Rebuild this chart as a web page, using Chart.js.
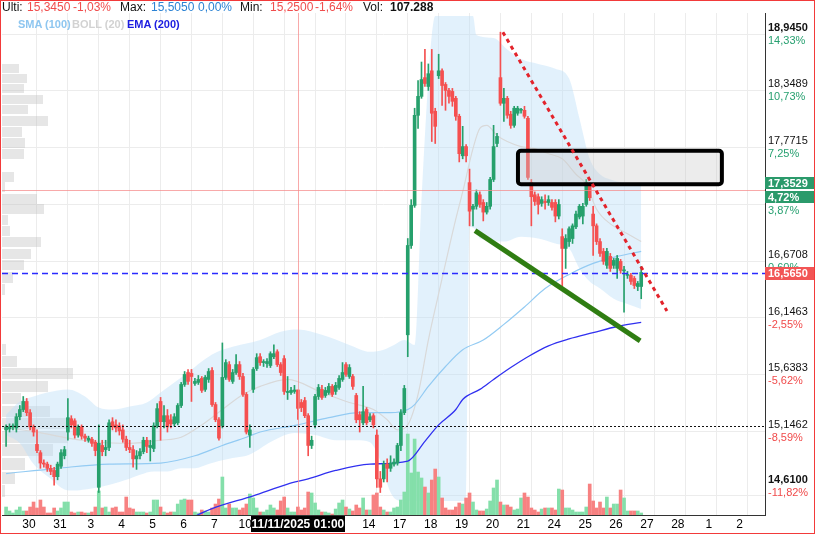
<!DOCTYPE html>
<html>
<head>
<meta charset="utf-8">
<title>Chart</title>
<script src="https://cdn.jsdelivr.net/npm/chart.js@4.4.1/dist/chart.umd.min.js"></script>
<style>
  html, body { margin: 0; padding: 0; background: #fff; }
  #wrap { position: relative; width: 813px; height: 532px; border: 1px solid #f23a3a; overflow: hidden;
          font-family: Arial, "Liberation Sans", sans-serif; }
  #wrap canvas { position: absolute; left: 0; top: 0; }
  #head { position: absolute; left: 0; top: 0; width: 763px; height: 12px; background: #fff;
          font-size: 12px; line-height: 12px; white-space: nowrap; }
  #head span, #legend span { position: absolute; top: 0; }
  .k { color: #111; }
  .r { color: #f04d4d; }
  .b { color: #2c83d4; }
  #legend { position: absolute; left: 0; top: 17px; font-size: 11px; font-weight: bold; line-height: 13px; white-space: nowrap; }
</style>
</head>
<body>
<div id="wrap">
  <canvas id="chart" width="813" height="532"></canvas>
  <div id="head">
    <span class="k" style="left:1px">Ulti:</span>
    <span class="r" style="left:26px">15,3450</span>
    <span class="r" style="left:72px">-1,03%</span>
    <span class="k" style="left:119px">Max:</span>
    <span class="b" style="left:150px">15,5050</span>
    <span class="b" style="left:197px">0,00%</span>
    <span class="k" style="left:239px">Min:</span>
    <span class="r" style="left:269px">15,2500</span>
    <span class="r" style="left:314px">-1,64%</span>
    <span class="k" style="left:362px">Vol:</span>
    <span class="k" style="left:389px;font-weight:bold">107.288</span>
  </div>
  <div id="legend">
    <span style="left:17px;color:#8ec6f0">SMA (100)</span>
    <span style="left:71px;color:#d2d2d2">BOLL (20)</span>
    <span style="left:126px;color:#1c1ce0">EMA (200)</span>
  </div>
</div>
<script>
// hourly candles, 9 per session, index 0 = first bar of 29 Oct
const open = [
  15.160,15.168,15.186,15.177,15.273,15.335,15.405,15.308,15.186,
  15.037,14.967,14.880,14.871,14.836,14.818,14.766,14.853,14.941,
  15.142,15.256,15.238,15.116,15.186,15.107,15.072,15.081,15.055,
  14.678,15.028,14.993,15.011,15.230,15.203,15.195,15.160,15.081,
  15.011,14.993,14.915,14.941,14.976,15.072,15.011,15.002,15.195,
  15.405,15.230,15.282,15.247,15.212,15.221,15.370,15.553,15.658,
  15.650,15.562,15.571,15.606,15.510,15.597,15.676,15.378,15.247,
  15.195,15.615,15.728,15.580,15.658,15.728,15.623,15.466,15.116,
  15.510,15.693,15.798,15.746,15.737,15.720,15.798,15.842,15.728,
  15.781,15.483,15.483,15.492,15.505,15.396,15.413,15.282,15.028,
  15.203,15.448,15.510,15.457,15.483,15.536,15.492,15.527,15.597,
  15.728,15.623,15.623,15.457,15.291,15.221,15.335,15.247,15.282,
  15.116,14.748,14.748,14.871,14.836,14.871,14.880,15.028,15.308,
  15.994,16.819,17.203,18.098,18.292,18.486,18.394,18.557,18.139,
  18.506,18.557,18.415,18.353,18.343,18.272,18.088,17.690,17.782,
  17.425,17.166,17.194,17.306,17.231,17.138,17.194,17.456,17.813,
  18.486,18.221,18.272,18.109,17.996,18.119,18.149,18.149,18.068,
  17.425,17.306,17.287,17.222,17.241,17.231,17.231,17.231,17.100,
  16.903,16.791,16.856,16.885,16.997,17.091,17.100,17.212,17.405,
  17.119,17.006,16.856,16.763,16.632,16.716,16.632,16.603,16.669,
  16.580,16.538,16.538,16.510,16.435,16.435
];
const high = [
  15.203,15.212,15.212,15.300,15.370,15.448,15.431,15.335,15.203,
  15.160,14.985,14.906,14.888,14.862,14.845,14.888,14.993,15.020,
  15.431,15.282,15.256,15.203,15.203,15.125,15.107,15.098,15.072,
  15.203,15.072,15.072,15.247,15.265,15.247,15.221,15.203,15.107,
  15.072,15.028,14.985,15.002,15.098,15.098,15.072,15.221,15.387,
  15.440,15.370,15.335,15.291,15.300,15.387,15.571,15.667,15.685,
  15.685,15.606,15.632,15.623,15.632,15.693,15.702,15.396,15.265,
  15.921,15.772,15.755,15.685,15.816,15.755,15.650,15.483,15.203,
  15.702,15.825,15.825,15.772,15.781,15.842,15.903,15.860,15.746,
  15.807,15.623,15.527,15.545,15.505,15.422,15.440,15.300,15.107,
  15.466,15.553,15.545,15.527,15.562,15.553,15.571,15.632,15.746,
  15.746,15.728,15.641,15.475,15.317,15.536,15.352,15.300,15.300,
  15.160,14.810,14.897,14.915,14.941,14.915,15.046,15.335,15.545,
  16.885,17.259,18.170,18.455,18.649,18.782,18.629,18.782,18.170,
  18.731,18.578,18.435,18.374,18.374,18.292,18.109,17.986,17.803,
  17.558,17.212,17.353,17.334,17.259,17.231,17.476,17.996,17.915,
  18.965,18.374,18.292,18.139,18.190,18.190,18.170,18.190,18.088,
  17.456,17.334,17.315,17.287,17.306,17.297,17.259,17.259,17.259,
  16.978,16.922,16.997,17.025,17.147,17.212,17.222,17.456,17.425,
  17.194,17.025,16.885,16.791,16.791,16.744,16.697,16.725,16.688,
  16.622,16.575,16.557,16.528,16.482,16.622
];
const low = [
  15.020,15.142,15.160,15.142,15.247,15.317,15.282,15.160,15.107,
  14.967,14.836,14.845,14.810,14.783,14.696,14.740,14.836,14.915,
  15.072,15.177,15.090,15.098,15.081,15.063,15.055,15.020,14.941,
  14.635,14.941,14.941,14.985,15.160,15.142,15.116,15.055,14.985,
  14.967,14.845,14.827,14.915,14.958,14.967,14.897,14.976,15.177,
  15.072,15.177,15.142,15.177,15.195,15.203,15.352,15.536,15.553,
  15.405,15.545,15.553,15.483,15.492,15.571,15.361,15.230,15.072,
  15.177,15.597,15.580,15.562,15.641,15.597,15.448,15.125,15.011,
  15.483,15.676,15.720,15.711,15.702,15.702,15.781,15.711,15.632,
  15.466,15.422,15.466,15.475,15.250,15.317,15.265,14.941,15.002,
  15.177,15.422,15.422,15.440,15.466,15.448,15.466,15.510,15.580,
  15.623,15.606,15.510,15.221,15.142,15.203,15.203,15.230,15.177,
  14.678,14.635,14.722,14.722,14.810,14.853,14.862,14.985,15.291,
  15.798,16.791,17.184,17.966,18.272,18.394,18.353,17.833,17.813,
  18.476,18.200,18.149,18.221,18.190,18.047,17.629,17.660,17.629,
  17.006,17.006,17.166,17.184,17.053,17.119,17.166,17.435,17.782,
  18.200,18.037,18.068,17.966,17.976,18.098,18.119,18.068,17.456,
  17.006,17.203,17.119,17.194,17.166,17.203,17.156,17.044,17.072,
  16.425,16.603,16.810,16.838,16.978,17.072,17.025,17.194,17.250,
  16.725,16.828,16.716,16.641,16.603,16.575,16.603,16.510,16.557,
  16.200,16.510,16.454,16.416,16.397,16.322
];
const close = [
  15.186,15.186,15.186,15.273,15.335,15.405,15.308,15.186,15.142,
  14.985,14.880,14.871,14.836,14.810,14.766,14.871,14.967,14.993,
  15.265,15.203,15.116,15.186,15.107,15.090,15.090,15.046,14.985,
  15.046,14.976,15.011,15.221,15.186,15.177,15.151,15.081,15.011,
  14.993,14.915,14.941,14.976,15.072,15.020,15.028,15.195,15.343,
  15.230,15.282,15.186,15.212,15.273,15.370,15.553,15.641,15.580,
  15.623,15.580,15.597,15.501,15.615,15.667,15.378,15.247,15.090,
  15.615,15.746,15.597,15.658,15.728,15.623,15.466,15.142,15.160,
  15.685,15.790,15.746,15.746,15.755,15.825,15.825,15.728,15.658,
  15.492,15.492,15.501,15.505,15.345,15.352,15.282,15.028,15.072,
  15.448,15.527,15.440,15.501,15.536,15.466,15.545,15.606,15.658,
  15.641,15.702,15.536,15.247,15.247,15.317,15.221,15.273,15.203,
  14.748,14.678,14.871,14.836,14.880,14.888,15.028,15.308,15.518,
  16.819,17.203,18.098,18.292,18.466,18.425,18.527,18.119,17.986,
  18.557,18.404,18.353,18.292,18.241,18.088,17.711,17.782,17.690,
  17.147,17.194,17.325,17.212,17.138,17.194,17.456,17.782,17.884,
  18.221,18.272,18.098,17.996,18.170,18.170,18.149,18.088,17.476,
  17.287,17.241,17.212,17.259,17.231,17.259,17.184,17.100,17.212,
  16.791,16.885,16.978,17.006,17.119,17.194,17.194,17.425,17.278,
  17.006,16.856,16.744,16.669,16.763,16.603,16.678,16.697,16.585,
  16.590,16.547,16.482,16.444,16.463,16.565
];
// volume, thousands of shares
const volume = [
  107,54,27,67,107,54,54,107,174,
  94,201,107,27,27,94,54,94,174,
  174,40,27,40,40,27,27,40,107,
  322,94,107,40,94,107,40,40,241,
  94,80,40,40,40,27,40,201,201,
  107,40,27,40,40,147,201,214,201,
  201,40,27,67,54,40,94,147,214,
  509,94,147,94,94,67,94,147,281,
  228,94,40,40,67,134,94,67,188,
  241,94,40,40,107,67,94,308,295,
  161,67,40,40,27,13,80,161,201,
  107,80,54,134,94,228,67,67,268,
  295,107,67,40,40,94,107,201,308,
  1085,563,1018,576,496,375,295,469,616,
  509,228,94,67,67,107,161,147,228,
  295,174,67,54,54,80,188,362,469,
  174,134,134,107,67,80,228,295,241,
  94,67,40,80,94,94,94,67,348,
  335,94,94,67,40,40,40,107,415,
  188,94,174,94,241,94,147,147,335,
  228,54,54,54,54,27
];

// session starts on the time axis and their labels
const dayStart = [9,18,27,36,45,54,63,72,81,90,99,108,117,126,135,144,153,162,171,180,189,198,207,216];
const dayNames = ['30','31','3','4','5','6','7','10','11','12','13','14','17','18','19','20','21','24','25','26','27','28','1','2'];

// price scale levels and their % labels
const yTicks = [18.945, 18.3489, 17.7715, 17.2114, 16.6708, 16.1463, 15.6383, 15.1462, 14.61];
const yPct = ['14,33%','10,73%','7,25%','3,87%','0,60%','-2,55%','-5,62%','-8,59%','-11,82%'];

// indicators (x = bar index)
const bbUpX = [0,4,8,12,18,23,27,31,36,41,45,49,53,57,61,66,74,80,85,92,100,106,110,113,116,119,121,123,124,125,136,137,142,146,150,155,160,164,167,170,173,176,180,185];
const bbUpY = [15.291,15.405,15.448,15.483,15.510,15.448,15.352,15.335,15.361,15.396,15.483,15.571,15.658,15.755,15.833,15.886,15.947,16.022,16.041,15.994,15.903,15.842,15.860,15.903,15.947,15.903,17.259,18.476,18.935,19.139,19.139,18.935,18.904,18.782,18.680,18.629,18.578,18.476,18.068,17.660,17.507,17.456,17.425,17.405];
const bbLoX = [0,4,8,13,17,20,23,27,31,35,39,43,47,51,55,59,62,66,70,72,78,84,90,96,102,106,109,112,115,134,135,137,138,145,150,155,160,164,167,170,173,177,181,185];
const bbLoY = [15.116,15.046,14.871,14.748,14.661,14.652,14.661,14.678,14.705,14.740,14.783,14.810,14.810,14.836,14.836,14.871,14.897,14.923,14.941,14.967,15.072,15.133,15.116,15.072,15.072,15.055,14.897,14.635,14.565,14.565,16.997,16.959,16.885,16.856,16.903,16.885,16.838,16.791,16.603,16.481,16.416,16.322,16.275,16.229];
const bbMidX = [0,9,18,27,36,45,51,57,63,69,74,82,92,100,107,111,114,117,120,123,126,128,131,133,136,138,140,143,146,150,154,158,162,166,169,172,176,181,185];
const bbMidY = [15.177,15.142,15.090,15.055,15.046,15.072,15.098,15.203,15.335,15.466,15.536,15.597,15.483,15.396,15.335,15.247,15.160,15.203,15.466,15.947,16.369,16.650,17.072,17.334,17.762,17.966,17.996,17.894,17.833,17.782,17.762,17.711,17.660,17.507,17.405,17.166,17.025,16.931,16.856];
const smaX = [0,15,30,45,55,63,70,74,85,94,103,112,117,119,123,128,133,139,145,151,157,164,171,178,185];
const smaY = [14.792,14.836,14.871,14.880,14.941,15.028,15.098,15.142,15.203,15.265,15.308,15.308,15.335,15.378,15.536,15.711,15.860,15.947,16.088,16.247,16.416,16.547,16.650,16.716,16.763];
const emaX = [48,53,60,72,82,88,96,106,117,122,126,131,133,138,142,147,152,158,164,171,178,185];
const emaY = [14.355,14.416,14.503,14.608,14.705,14.748,14.818,14.871,14.897,15.063,15.203,15.335,15.422,15.510,15.597,15.702,15.798,15.895,15.957,16.013,16.069,16.107];

// volume profile (price bin centre, relative volume)
const vpPrice = [18.588,18.481,18.374,18.267,18.155,18.047,17.940,17.828,17.716,17.486,17.384,17.273,17.170,17.067,16.959,16.852,16.739,16.636,16.524,16.411,15.864,15.759,15.650,15.540,15.435,15.321,15.221,15.107,14.993,14.880,14.757,14.648];
const vpVol = [340,500,440,820,520,920,400,460,440,240,60,700,840,120,160,780,580,440,220,60,80,300,1420,920,380,960,1360,1320,1020,460,260,60];
const vpStep = 0.107;

// drawings
const crossBar = 85, crossPrice = 17.3529, crossPct = '4,72%', crossLabel = '11/11/2025 01:00';
const lastPrice = 16.565;
const supportPrice = 15.195;
const redTrendX = [144.7, 192.5], redTrendY = [18.965, 16.21];
const greenTrendX = [136.6, 184.7], greenTrendY = [16.96, 15.94];
const zoneX = [149.1, 208.5], zoneY = [17.74, 17.41];

const FONT = 'Arial, "Liberation Sans", sans-serif';
Chart.defaults.font.family = FONT;

const UP = '#26a06c', DOWN = '#f55050';
const candleColors = open.map((o, i) => close[i] >= o ? UP : DOWN);
const volColors = candleColors.map(c => c === UP ? '#84dfaa' : '#f78181');
const pts = (xs, ys) => xs.map((v, k) => ({x: v, y: ys[k]}));
const fmt = v => v.toFixed(4).replace('.', ',');

const overlay = {
  id: 'overlay',
  beforeDatasetsDraw(chart) {
    const {ctx, chartArea: a, scales: {y}} = chart;
    const vmax = Math.max(...vpVol);
    ctx.save();
    ctx.beginPath(); ctx.rect(a.left, a.top, a.right - a.left, a.bottom - a.top); ctx.clip();
    ctx.fillStyle = 'rgba(190,190,190,0.38)';
    vpPrice.forEach((p, k) => {
      const t = y.getPixelForValue(p + vpStep / 2);
      const b = y.getPixelForValue(p - vpStep / 2);
      ctx.fillRect(a.left, Math.round(t) + 1, vpVol[k] / vmax * 71, Math.round(b - t) - 1);
    });
    ctx.restore();
  },
  afterDatasetsDraw(chart) {
    const {ctx, chartArea: a, scales: {x, y}} = chart;
    ctx.save();
    ctx.beginPath(); ctx.rect(a.left, a.top, a.right - a.left, a.bottom - a.top); ctx.clip();
    const hline = (p, color, dash, w) => {
      const py = Math.round(y.getPixelForValue(p)) + 0.5;
      ctx.beginPath(); ctx.setLineDash(dash); ctx.lineWidth = w; ctx.strokeStyle = color;
      ctx.moveTo(a.left, py); ctx.lineTo(a.right, py); ctx.stroke();
    };
    hline(crossPrice, 'rgba(245,140,140,0.75)', [], 1);
    const cx = Math.round(x.getPixelForValue(crossBar)) + 0.5;
    ctx.beginPath(); ctx.moveTo(cx, a.top); ctx.lineTo(cx, a.bottom); ctx.stroke();
    hline(lastPrice, '#2a2aff', [6, 4], 1.4);
    hline(supportPrice, '#111', [2, 2], 1);

    // zone rectangle
    const zx1 = x.getPixelForValue(zoneX[0]), zx2 = x.getPixelForValue(zoneX[1]);
    const zy1 = y.getPixelForValue(zoneY[0]), zy2 = y.getPixelForValue(zoneY[1]);
    ctx.setLineDash([]);
    ctx.beginPath();
    ctx.roundRect(zx1, zy1, zx2 - zx1, zy2 - zy1, 3);
    ctx.fillStyle = 'rgba(200,200,200,0.35)'; ctx.fill();
    ctx.lineWidth = 4; ctx.strokeStyle = '#000'; ctx.stroke();

    const seg = (xs, ys, color, w, dash) => {
      ctx.beginPath(); ctx.setLineDash(dash); ctx.lineWidth = w; ctx.strokeStyle = color;
      ctx.moveTo(x.getPixelForValue(xs[0]), y.getPixelForValue(ys[0]));
      ctx.lineTo(x.getPixelForValue(xs[1]), y.getPixelForValue(ys[1]));
      ctx.stroke();
    };
    seg(greenTrendX, greenTrendY, '#2f7d12', 5, []);
    seg(redTrendX, redTrendY, '#e3232b', 3, [4, 4]);
    ctx.restore();
  },
  afterDraw(chart) {
    const {ctx, chartArea: a, scales: {x, y}} = chart;
    ctx.save();
    ctx.textAlign = 'left'; ctx.textBaseline = 'middle';
    const lx = a.right + 3;
    yTicks.forEach((v, k) => {
      const last = k === yTicks.length - 1;
      const py = y.getPixelForValue(v) - (last ? 9 : 0);
      ctx.font = ((k === 0 || last) ? 'bold ' : '') + '11px ' + FONT;
      ctx.fillStyle = '#111';
      ctx.fillText(fmt(v), lx, py - 6.5);
      ctx.font = '11px ' + FONT;
      ctx.fillStyle = yPct[k].charAt(0) === '-' ? '#f04a4a' : '#27a070';
      ctx.fillText(yPct[k], lx, py + 6.5);
    });
    const tag = (top, h, bg, txt) => {
      ctx.fillStyle = bg; ctx.fillRect(a.right, top, 49, h);
      ctx.fillStyle = '#fff'; ctx.font = 'bold 11px ' + FONT;
      ctx.fillText(txt, a.right + 3, top + h / 2 + 0.5);
    };
    const pc = Math.round(y.getPixelForValue(crossPrice));
    tag(pc - 13, 12, '#2b9a6b', fmt(crossPrice));
    tag(pc + 1, 12, '#2b9a6b', crossPct);
    const pl = Math.round(y.getPixelForValue(lastPrice));
    tag(pl - 6, 13, '#f25555', fmt(lastPrice));

    const cx = x.getPixelForValue(crossBar);
    ctx.fillStyle = '#000';
    ctx.fillRect(Math.round(cx - 47), a.bottom + 1, 94, 16);
    ctx.fillStyle = '#fff'; ctx.font = 'bold 12px ' + FONT; ctx.textAlign = 'center';
    ctx.fillText(crossLabel, cx, a.bottom + 9.5);
    ctx.restore();
  }
};

new Chart(document.getElementById('chart'), {
  type: 'bar',
  data: {
    datasets: [
      { type: 'line', data: pts(bbUpX, bbUpY), borderColor: 'transparent', borderWidth: 0, pointRadius: 0,
        fill: '+1', backgroundColor: 'rgba(190,225,248,0.45)', cubicInterpolationMode: 'monotone', order: 20, yAxisID: 'y' },
      { type: 'line', data: pts(bbLoX, bbLoY), borderColor: 'transparent', borderWidth: 0, pointRadius: 0,
        fill: false, cubicInterpolationMode: 'monotone', order: 20, yAxisID: 'y' },
      { data: volume.map((v, i) => ({x: i, y: v})), yAxisID: 'yv', backgroundColor: volColors,
        barThickness: 3, grouped: false, order: 15 },
      { type: 'line', data: pts(bbMidX, bbMidY), borderColor: '#d9d9d9', borderWidth: 1.2, pointRadius: 0,
        cubicInterpolationMode: 'monotone', order: 8, yAxisID: 'y' },
      { type: 'line', data: pts(smaX, smaY), borderColor: '#93cbf3', borderWidth: 1.2, pointRadius: 0,
        cubicInterpolationMode: 'monotone', order: 7, yAxisID: 'y' },
      { type: 'line', data: pts(emaX, emaY), borderColor: '#3030f0', borderWidth: 1.3, pointRadius: 0,
        cubicInterpolationMode: 'monotone', order: 6, yAxisID: 'y' },
      { data: low.map((l, i) => ({x: i, y: [l, high[i]]})), backgroundColor: candleColors,
        barThickness: 1, grouped: false, order: 3, yAxisID: 'y' },
      { data: open.map((o, i) => ({x: i, y: [o, close[i]]})), backgroundColor: candleColors,
        barThickness: 3, grouped: false, minBarLength: 1, order: 2, yAxisID: 'y' }
    ]
  },
  options: {
    responsive: false,
    animation: false,
    devicePixelRatio: 1,
    layout: { padding: { left: 1, top: 12, right: 0, bottom: 0 } },
    plugins: { legend: { display: false }, tooltip: { enabled: false } },
    scales: {
      x: {
        type: 'linear', min: -1.19, max: 221.06, offset: false, bounds: 'data',
        grid: { color: '#ececec', offset: false, drawTicks: false },
        border: { color: '#333' },
        afterBuildTicks: s => { s.ticks = dayStart.map(v => ({value: v})); },
        afterFit: s => { s.height = 18; },
        ticks: { autoSkip: false, maxRotation: 0, minRotation: 0, color: '#000', font: { size: 12 },
                 padding: 2, labelOffset: -8, callback: (v, k) => dayNames[k] }
      },
      y: {
        type: 'logarithmic', position: 'right', min: 14.451, max: 19.171, bounds: 'data',
        grid: { color: '#ececec', drawTicks: false },
        border: { color: '#333' },
        afterBuildTicks: s => { s.ticks = yTicks.map(v => ({value: v})); },
        afterFit: s => { s.width = 49; },
        ticks: { display: false }
      },
      yv: { type: 'linear', position: 'left', display: false, min: 0, max: 6727 }
    }
  },
  plugins: [overlay]
});
</script>
</body>
</html>
